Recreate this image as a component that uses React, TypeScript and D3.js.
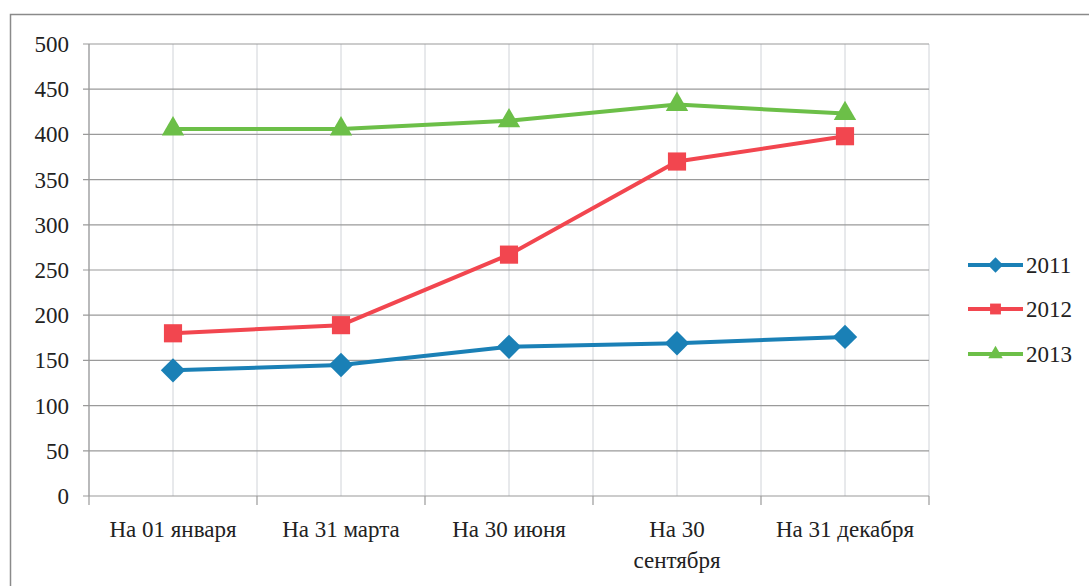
import * as d3 from 'd3'
import { useEffect, useRef } from 'react'

const categories = ['На 01 января', 'На 31 марта', 'На 30 июня', 'На 30 сентября', 'На 31 декабря']
const years = ['2011', '2012', '2013']
const values2011 = [139, 145, 165, 169, 176]
const values2012 = [180, 189, 267, 370, 398]
const values2013 = [406, 406, 415, 433, 423]
const yTicks = [0, 50, 100, 150, 200, 250, 300, 350, 400, 450, 500]

const colors = ['#1a80b6', '#f2464f', '#6cbf48']
const symbols = [d3.symbolDiamond2, d3.symbolSquare2, d3.symbolTriangle2]

const W = 1089
const H = 586
const margin = { left: 89, top: 44, right: 160, bottom: 90 }

export default function App() {
    const svgRef = useRef(null) as any

    useEffect(() => {
        const svg = d3.select(svgRef.current)
        svg.selectAll('*').remove()

        const font = 'Liberation Serif, DejaVu Serif, Times New Roman, serif'
        const fs = 23
        const series = [values2011, values2012, values2013]

        const xScale = d3.scaleBand()
            .domain(categories)
            .range([margin.left, W - margin.right])
            .padding(0)

        const yScale = d3.scaleLinear()
            .domain([0, 500])
            .range([H - margin.bottom, margin.top])

        const bw = xScale.bandwidth()
        const cx = (c: string) => (xScale(c) as number) + bw / 2

        // outer frame
        svg.append('rect')
            .attr('x', 10.5)
            .attr('y', 14.5)
            .attr('width', W)
            .attr('height', H)
            .attr('fill', 'none')
            .attr('stroke', '#8a8a8a')
            .attr('stroke-width', 1.5)

        // vertical grid lines, at band edges and band centers
        const vLines: number[] = []
        categories.forEach(c => {
            vLines.push(xScale(c) as number)
            vLines.push(cx(c))
        })
        vLines.push(W - margin.right)

        svg.append('g')
            .selectAll('line')
            .data(vLines)
            .join('line')
            .attr('x1', d => d)
            .attr('x2', d => d)
            .attr('y1', yScale(0))
            .attr('y2', yScale(500))
            .style('stroke', '#d0d3d8')
            .style('stroke-width', 1)

        // horizontal grid lines
        svg.append('g')
            .selectAll('line')
            .data(yTicks)
            .join('line')
            .attr('x1', margin.left - 6)
            .attr('x2', W - margin.right)
            .attr('y1', d => yScale(d))
            .attr('y2', d => yScale(d))
            .style('stroke', '#9a9a9a')
            .style('stroke-width', 1.2)

        // y axis line
        svg.append('line')
            .attr('x1', margin.left)
            .attr('x2', margin.left)
            .attr('y1', yScale(0))
            .attr('y2', yScale(500))
            .style('stroke', '#9a9a9a')
            .style('stroke-width', 1.2)

        // x tick marks at band edges
        const edges = categories.map(c => xScale(c) as number).concat([W - margin.right])
        svg.append('g')
            .selectAll('line')
            .data(edges)
            .join('line')
            .attr('x1', d => d)
            .attr('x2', d => d)
            .attr('y1', yScale(0))
            .attr('y2', yScale(0) + 9)
            .style('stroke', '#9a9a9a')
            .style('stroke-width', 1.2)

        // y tick labels
        svg.append('g')
            .selectAll('text')
            .data(yTicks)
            .join('text')
            .attr('x', 69)
            .attr('y', d => yScale(d))
            .attr('dy', '0.35em')
            .attr('text-anchor', 'end')
            .attr('font-family', font)
            .attr('font-size', fs)
            .attr('fill', '#222')
            .text(d => d)

        // x tick labels (wrapped like the original)
        const xl = svg.append('g')
        categories.forEach(c => {
            const lines = c === 'На 30 сентября' ? ['На 30', 'сентября'] : [c]
            const t = xl.append('text')
                .attr('x', cx(c))
                .attr('y', 537)
                .attr('text-anchor', 'middle')
                .attr('font-family', font)
                .attr('font-size', fs)
                .attr('fill', '#222')
            lines.forEach((l, i) => {
                t.append('tspan')
                    .attr('x', cx(c))
                    .attr('dy', i === 0 ? 0 : 31)
                    .text(l)
            })
        })

        const makeLine = d3.line<number>()
            .x((_d, i) => cx(categories[i]))
            .y(d => yScale(d))

        series.forEach((vals, si) => {
            svg.append('path')
                .datum(vals)
                .attr('d', makeLine)
                .attr('fill', 'none')
                .attr('stroke', colors[si])
                .attr('stroke-width', 4)
                .attr('stroke-linejoin', 'round')

            svg.append('g')
                .selectAll('path')
                .data(vals)
                .join('path')
                .attr('transform', (d, i) => `translate(${cx(categories[i])},${yScale(d)})`)
                .attr('d', d3.symbol().type(symbols[si]).size(si === 0 ? 380 : si === 1 ? 420 : 360)() as string)
                .attr('fill', colors[si])
        })

        // legend
        const legendY = [265, 309, 354]
        years.forEach((yr, i) => {
            const g = svg.append('g').attr('transform', `translate(0,${legendY[i]})`)
            g.append('line')
                .attr('x1', 968)
                .attr('x2', 1023)
                .attr('y1', 0)
                .attr('y2', 0)
                .attr('stroke', colors[i])
                .attr('stroke-width', 4)
            g.append('path')
                .attr('transform', 'translate(995.5,0)')
                .attr('d', d3.symbol().type(symbols[i]).size(150)() as string)
                .attr('fill', colors[i])
            g.append('text')
                .attr('x', 1026)
                .attr('y', 0)
                .attr('dy', '0.35em')
                .attr('font-family', font)
                .attr('font-size', fs)
                .attr('fill', '#222')
                .text(yr)
        })
    }, [])

    return (
        <svg
            ref={svgRef}
            width={W}
            height={H}
            style={{ position: 'absolute', left: 0, top: 0, background: '#fff' }}
        />
    )
}
